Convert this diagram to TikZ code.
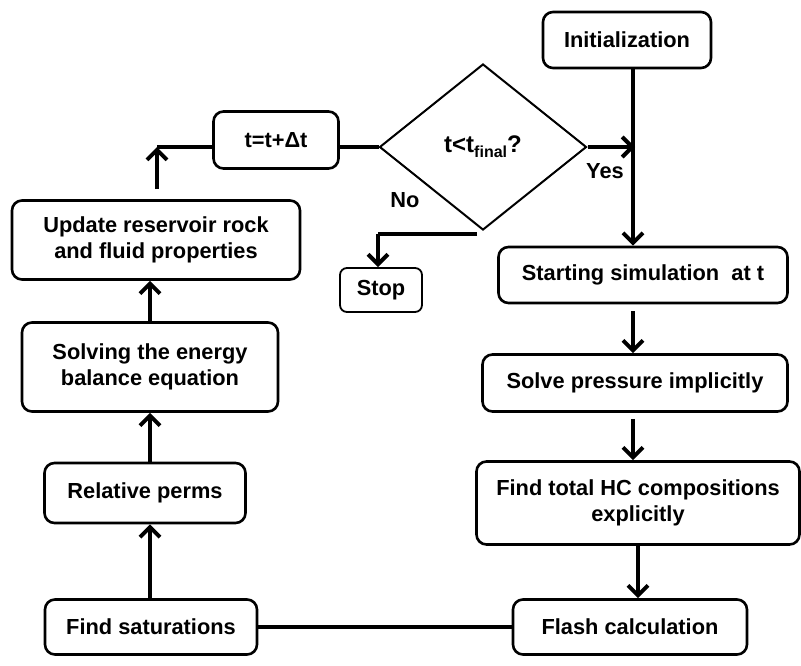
\documentclass[tikz,border=0pt]{standalone}
\usepackage{fontspec}
\setmainfont{Liberation Sans}
\usetikzlibrary{shapes.geometric,arrows.meta}
\tikzset{
  box/.style={draw, line width=2.6pt, rounded corners=10pt, align=center, inner sep=2pt,
    font=\fontsize{21.8}{26}\selectfont\bfseries},
  conn/.style={line width=4.6pt},
  arr/.style={line width=4.6pt, -{Straight Barb[length=10pt,width=20pt,line width=4pt]}},
  lbl/.style={font=\fontsize{21.8}{26}\selectfont\bfseries}
}
\begin{document}
\begin{tikzpicture}[x=1pt,y=-1pt]
\useasboundingbox (0,0) rectangle (801,665);
% nodes
\node[box, minimum width=168pt, minimum height=56pt] (init) at (627,40) {Initialization};
\node[draw, line width=2pt, shape=diamond, minimum width=207pt, minimum height=166pt, inner sep=0pt,
  font=\fontsize{24}{28}\selectfont\bfseries] (dia) at (483,147)
  {t<t\raisebox{-0.4ex}{\fontsize{16}{16}\selectfont final}?};
\node[box, minimum width=125pt, minimum height=57pt] (tt) at (276,140) {t=t+Δt};
\node[box, line width=1.8pt, rounded corners=7pt, minimum width=82pt, minimum height=44pt] (stop) at (381,290) {Stop};
\node[box, minimum width=289pt, minimum height=56pt] (start) at (643,275) {Starting simulation\ \ at t};
\node[box, minimum width=305pt, minimum height=57pt] (solve) at (635,383) {Solve pressure implicitly};
\node[box, minimum width=323pt, minimum height=83pt] (hc) at (638,503) {Find total HC compositions\\explicitly};
\node[box, minimum width=234pt, minimum height=55pt] (flash) at (630,627) {Flash calculation};
\node[box, minimum width=212pt, minimum height=55pt] (sat) at (151,627) {Find saturations};
\node[box, minimum width=201pt, minimum height=60pt] (rel) at (145,493) {Relative perms};
\node[box, minimum width=256pt, minimum height=89pt] (energy) at (150,367) {Solving the energy\\balance equation};
\node[box, minimum width=288pt, minimum height=79pt] (upd) at (156,240) {Update reservoir rock\\and fluid properties};
\node[lbl] (no) at (405,200) {No};
\node[lbl] (yes) at (605,171) {Yes};
% coordinates
\coordinate (yesend) at (635,147);
\coordinate (nostart) at (477,234);
\coordinate (nocorner) at (378,234);
\coordinate (corner) at (157,147);
% connectors
\draw[arr] (init.south -| 633,0) -- (start.north -| 633,0);
\draw[arr] (dia.east) -- (yesend);
\draw[conn] (tt.east |- dia.west) -- (dia.west);
\draw[conn] (nostart) -- (nocorner);
\draw[arr] (nocorner) -- (stop.north -| nocorner);
\draw[arr, shorten <=10pt] (upd.north -| corner) -- (corner);
\draw[conn] (corner) -- (tt.west |- corner);
\draw[arr] (energy.north -| 150,0) -- (upd.south -| 150,0);
\draw[arr] (rel.north -| 150,0) -- (energy.south -| 150,0);
\draw[arr] (sat.north -| 150,0) -- (rel.south -| 150,0);
\draw[arr, shorten <=7pt] (start.south -| 633,0) -- (solve.north -| 633,0);
\draw[arr, shorten <=6pt] (solve.south -| 633,0) -- (hc.north -| 633,0);
\draw[arr] (hc.south -| 638,0) -- (flash.north -| 638,0);
\draw[conn] (flash.west) -- (sat.east);
\end{tikzpicture}
\end{document}
